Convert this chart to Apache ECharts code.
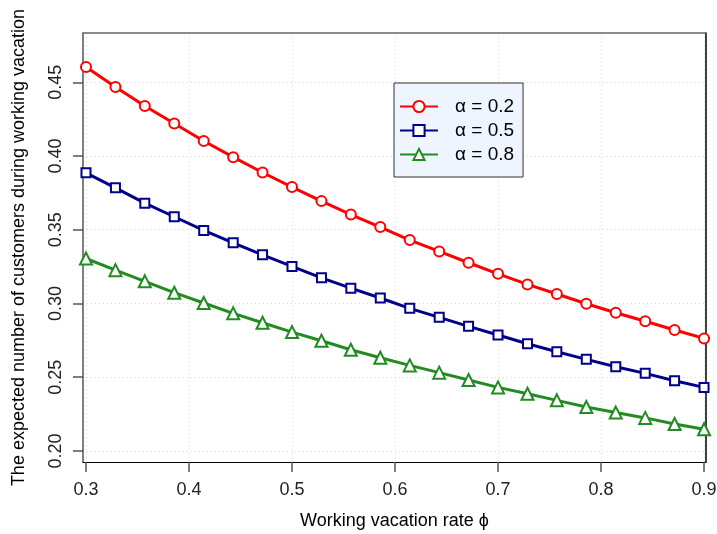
<!DOCTYPE html>
<html>
<head>
<meta charset="utf-8">
<script src="https://cdn.jsdelivr.net/npm/echarts@6/dist/echarts.min.js"></script>
<style>
html,body{margin:0;padding:0;background:#fff;}
#chart{width:717px;height:534px;}
</style>
</head>
<body>
<div id="chart"></div>
<script>
const phi = [0.3000, 0.3286, 0.3571, 0.3857, 0.4143, 0.4429, 0.4714, 0.5000, 0.5286, 0.5571, 0.5857, 0.6143, 0.6429, 0.6714, 0.7000, 0.7286, 0.7571, 0.7857, 0.8143, 0.8429, 0.8714, 0.9000];
const alpha02 = [0.4604, 0.4468, 0.4339, 0.4220, 0.4102, 0.3992, 0.3888, 0.3789, 0.3694, 0.3603, 0.3518, 0.3430, 0.3353, 0.3276, 0.3201, 0.3129, 0.3064, 0.2998, 0.2937, 0.2879, 0.2820, 0.2763];
const alpha05 = [0.3886, 0.3784, 0.3680, 0.3588, 0.3495, 0.3411, 0.3330, 0.3251, 0.3174, 0.3104, 0.3037, 0.2967, 0.2906, 0.2845, 0.2786, 0.2727, 0.2673, 0.2621, 0.2571, 0.2526, 0.2476, 0.2431];
const alpha08 = [0.3305, 0.3226, 0.3150, 0.3073, 0.3003, 0.2933, 0.2869, 0.2806, 0.2747, 0.2686, 0.2632, 0.2580, 0.2531, 0.2481, 0.2431, 0.2388, 0.2343, 0.2298, 0.2260, 0.2224, 0.2183, 0.2147];
const xTicks = [0.3, 0.4, 0.5, 0.6, 0.7, 0.8, 0.9];
const yTicks = [0.20, 0.25, 0.30, 0.35, 0.40, 0.45];
const seriesNames = ['α = 0.2', 'α = 0.5', 'α = 0.8'];
const xTitle = 'Working vacation rate ϕ';
const yTitle = 'The expected number of customers during working vacation';

const FONT = "'Liberation Sans', Arial, Helvetica, sans-serif";
const pair = arr => phi.map((x, i) => [x, arr[i]]);

function mkSeries(name, data, color, symbol, size) {
  return {
    name: name, type: 'line', data: pair(data),
    xAxisIndex: 0, yAxisIndex: 0,
    symbol: symbol, symbolSize: size, showSymbol: true,
    lineStyle: {color: color, width: 3},
    itemStyle: {color: color, borderColor: color, borderWidth: 2.5},
    emphasis: {disabled: true},
    animation: false, clip: false, z: 3
  };
}

const chart = echarts.init(document.getElementById('chart'), null, {renderer: 'canvas'});
chart.setOption({
  animation: false,
  backgroundColor: '#ffffff',
  textStyle: {fontFamily: FONT},
  grid: {left: 83, right: 11, top: 33, bottom: 72, outerBoundsMode: 'none', containLabel: false},
  legend: {
    show: true, orient: 'vertical', left: 394, top: 83,
    data: seriesNames,
    selectedMode: false,
    itemWidth: 38, itemHeight: 14, itemGap: 5,
    padding: [14, 9, 13, 5],
    backgroundColor: '#EEF5FF', borderColor: '#333', borderWidth: 1,
    textStyle: {fontFamily: FONT, fontSize: 19, color: '#000', padding: [0, 0, 0, 12]}
  },
  xAxis: [{
    type: 'value', position: 'bottom', min: 0.2971, max: 0.9019,
    name: xTitle, nameLocation: 'middle', nameGap: 50, nameMoveOverlap: false,
    nameTextStyle: {fontFamily: FONT, fontSize: 18, color: '#000'},
    axisLine: {show: true, onZero: false, lineStyle: {color: '#000', width: 1}},
    axisTick: {show: true, inside: false, length: 10, customValues: xTicks, lineStyle: {color: '#555', width: 1.5}},
    axisLabel: {show: true, margin: 19, customValues: xTicks, fontSize: 18, color: '#222', fontFamily: FONT,
      formatter: v => v.toFixed(1), hideOverlap: false, showMinLabel: true, showMaxLabel: true},
    splitLine: {show: true, lineStyle: {color: '#d9d9d9', type: [1, 3], width: 1}}
  }, {
    type: 'value', position: 'top', min: 0, max: 1,
    axisLine: {show: true, onZero: false, lineStyle: {color: '#666', width: 1.5}},
    axisTick: {show: false}, axisLabel: {show: false}, splitLine: {show: false}
  }],
  yAxis: [{
    type: 'value', position: 'left', min: 0.1925, max: 0.4834,
    name: yTitle, nameLocation: 'middle', nameGap: 55, nameRotate: 90, nameMoveOverlap: false,
    nameTextStyle: {fontFamily: FONT, fontSize: 18, color: '#000'},
    axisLine: {show: true, onZero: false, lineStyle: {color: '#555', width: 1.5}},
    axisTick: {show: true, inside: false, length: 10, customValues: yTicks, lineStyle: {color: '#555', width: 1.5}},
    axisLabel: {show: true, margin: 18, rotate: 90, customValues: yTicks, fontSize: 18, color: '#222', fontFamily: FONT,
      formatter: v => v.toFixed(2), hideOverlap: false, showMinLabel: true, showMaxLabel: true},
    splitLine: {show: true, lineStyle: {color: '#d9d9d9', type: [1, 3], width: 1}}
  }, {
    type: 'value', position: 'right', min: 0, max: 1,
    axisLine: {show: true, onZero: false, lineStyle: {color: '#000', width: 1.5}},
    axisTick: {show: false}, axisLabel: {show: false}, splitLine: {show: false}
  }],
  series: [
    mkSeries(seriesNames[0], alpha02, '#FF0000', 'emptyCircle', 10),
    mkSeries(seriesNames[1], alpha05, '#00008B', 'emptyRect', 9),
    mkSeries(seriesNames[2], alpha08, '#228B22', 'emptyTriangle', 12)
  ]
});
</script>
</body>
</html>
